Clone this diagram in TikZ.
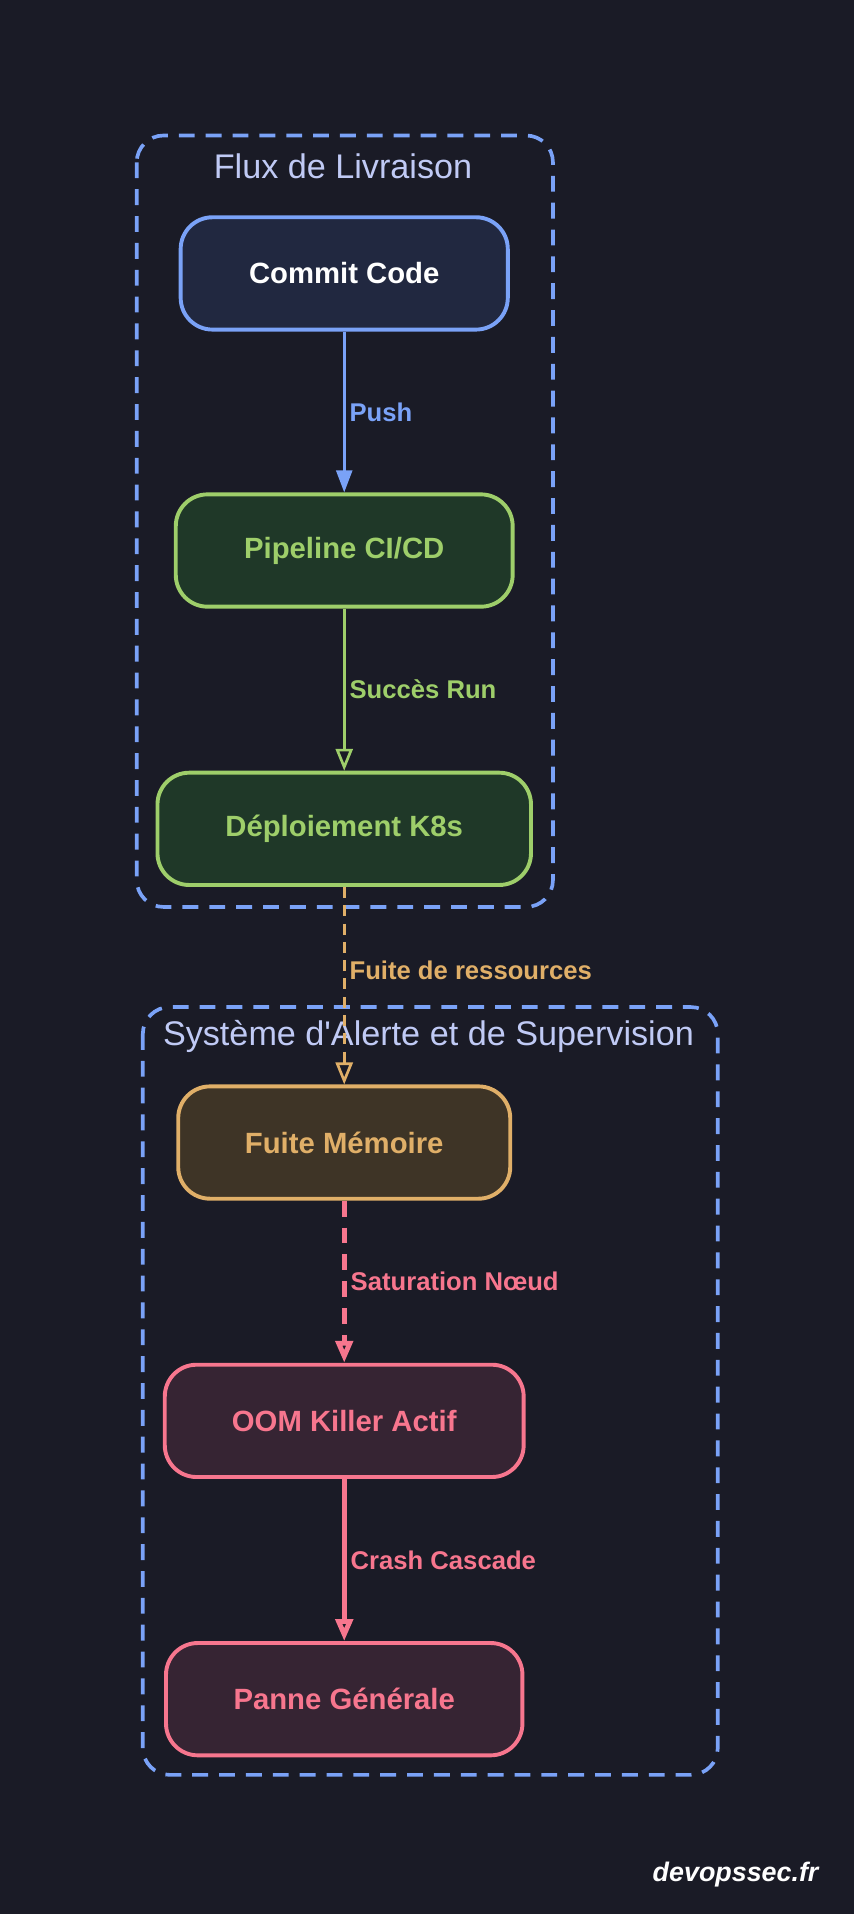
\documentclass[tikz,border=0pt]{standalone}
\usepackage{fontspec}
\setmainfont{Liberation Sans}
\usetikzlibrary{arrows.meta}
\definecolor{bgc}{HTML}{1A1B26}
\definecolor{blu}{HTML}{7AA2F7}
\definecolor{grn}{HTML}{9ECE6A}
\definecolor{org}{HTML}{E0AF68}
\definecolor{pnk}{HTML}{F7768E}
\definecolor{ttl}{HTML}{C0CAF5}
\definecolor{gfill}{HTML}{1F3828}
\definecolor{ofill}{HTML}{3E3426}
\definecolor{pfill}{HTML}{362433}
\definecolor{bfill}{HTML}{212840}
\tikzset{
  box/.style={draw, line width=3.2pt, rounded corners=26pt, minimum height=92pt, font=\bfseries\fontsize{24}{28}\selectfont},
  grp/.style={draw=blu, dash pattern=on 13pt off 9pt, line width=3pt, rounded corners=22pt},
  lbl/.style={right, font=\bfseries\fontsize{21}{25}\selectfont},
  ttlf/.style={text=ttl, font=\fontsize{28}{33}\selectfont},
}
\begin{document}
\begin{tikzpicture}[x=1pt,y=-1pt]
\fill[bgc] (0,0) rectangle (700,1568);
\useasboundingbox (0,0) rectangle (700,1568);
% groupes
\draw[grp] (112,111) rectangle (453,743);
\node[ttlf] (t1) at (281,136) {Flux de Livraison};
\draw[grp] (117,825) rectangle (588,1454);
\node[ttlf] (t2) at (351,849) {Système d\textquotesingle Alerte et de Supervision};
% noeuds
\node[box, draw=blu, fill=bfill, text=white, minimum width=268pt] (commit) at (282,224) {Commit Code};
\node[box, draw=grn, fill=gfill, text=grn, minimum width=276pt] (pipe) at (282,451) {Pipeline CI/CD};
\node[box, draw=grn, fill=gfill, text=grn, minimum width=306pt] (deploy) at (282,679) {Déploiement K8s};
\node[box, draw=org, fill=ofill, text=org, minimum width=272pt] (fuite) at (282,936) {Fuite Mémoire};
\node[box, draw=pnk, fill=pfill, text=pnk, minimum width=294pt] (oom) at (282,1164) {OOM Killer Actif};
\node[box, draw=pnk, fill=pfill, text=pnk, minimum width=292pt] (panne) at (282,1392) {Panne Générale};
% liens
\draw[blu, line width=2.2pt, -{Triangle[length=18pt,width=13pt]}] (commit) -- node[lbl, text=blu] {Push} (pipe);
\draw[grn, line width=2.2pt, -{Triangle[open,length=18pt,width=14pt]}] (pipe) -- node[lbl, text=grn] {Succès Run} (deploy);
\draw[org, line width=2.2pt, dash pattern=on 9pt off 6pt, -{Triangle[open,length=18pt,width=14pt]}] (deploy) -- node[lbl, text=org, pos=0.42] {Fuite de ressources} (fuite);
\draw[pnk, line width=4pt, dash pattern=on 13pt off 9pt, -{Triangle[open,length=18pt,width=14pt]}] (fuite) -- node[lbl, text=pnk] {Saturation Nœud} (oom);
\draw[pnk, line width=4pt, -{Triangle[open,length=18pt,width=14pt]}] (oom) -- node[lbl, text=pnk] {Crash Cascade} (panne);
\node[text=white, font=\bfseries\itshape\fontsize{22}{26}\selectfont, anchor=east] (brand) at (674,1536) {devopssec.fr};
\end{tikzpicture}
\end{document}
